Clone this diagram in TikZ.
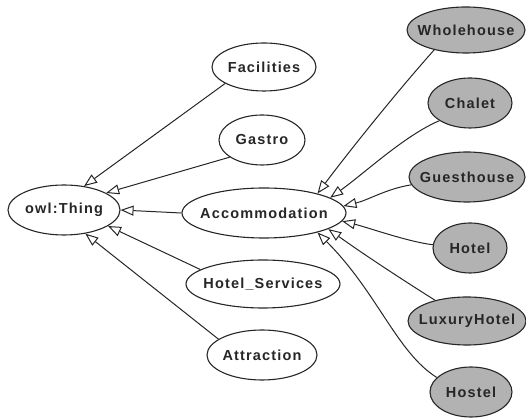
\documentclass[tikz,border=0pt]{standalone}
\usepackage{fontspec}
\newfontfamily\lblfont[LetterSpace=8]{Liberation Sans}
\newcommand\lbtxt[1]{\makebox[0pt]{#1}}
\usetikzlibrary{shapes.geometric,arrows.meta}
\begin{document}
\begin{tikzpicture}[x=1pt,y=1pt,
  cls/.style={ellipse,draw=black!85,line width=1.1pt,inner sep=0pt,font=\lblfont\bfseries\fontsize{14.5}{15}\selectfont,text=black!85},
  sub/.style={cls,fill=black!30},
  isa/.style={draw=black!85,line width=1pt,-{Triangle[open,length=13pt,width=10pt]}}]
\useasboundingbox (0,0) rectangle (526,419);
\node[cls,minimum width=112,minimum height=50] (thing) at (64,209) {\lbtxt{owl:Thing}};
\node[cls,minimum width=104,minimum height=48] (fac) at (264,352) {\lbtxt{Facilities}};
\node[cls,minimum width=86,minimum height=50] (gas) at (262,279) {\lbtxt{Gastro}};
\node[cls,minimum width=164,minimum height=50] (acc) at (264,206) {\lbtxt{Accommodation}};
\node[cls,minimum width=154,minimum height=48] (hs) at (263,135) {\lbtxt{Hotel\_Services}};
\node[cls,minimum width=110,minimum height=50] (att) at (262,64) {\lbtxt{Attraction}};
\node[sub,minimum width=118,minimum height=46] (wh) at (466,389) {\lbtxt{Wholehouse}};
\node[sub,minimum width=84,minimum height=50] (ch) at (470,316) {\lbtxt{Chalet}};
\node[sub,minimum width=116,minimum height=50] (gh) at (467,242) {\lbtxt{Guesthouse}};
\node[sub,minimum width=74,minimum height=50] (ho) at (470,171) {\lbtxt{Hotel}};
\node[sub,minimum width=118,minimum height=48] (lh) at (467,98) {\lbtxt{LuxuryHotel}};
\node[sub,minimum width=82,minimum height=50] (hos) at (471,27) {\lbtxt{Hostel}};
\draw[isa] (fac.203) -- (thing.50);
\draw[isa] (gas.208) -- (thing.22);
\draw[isa] (acc.180) -- (thing.0);
\draw[isa] (hs.167) -- (thing.-20);
\draw[isa] (att.160) -- (thing.-48);
\draw[isa] (wh.212) .. controls +(-40,-45) and +(30,40) .. (acc.20);
\draw[isa] (ch.210) .. controls +(-35,-15) and +(35,25) .. (acc.13);
\draw[isa] (gh.188) .. controls +(-25,-4) and +(25,6) .. (acc.5);
\draw[isa] (ho.175) .. controls +(-25,3) and +(25,-6) .. (acc.-6);
\draw[isa] (lh.147) .. controls +(-35,22) and +(35,-25) .. (acc.-14);
\draw[isa] (hos.157) .. controls +(-40,25) and +(60,-60) .. (acc.-20);
\end{tikzpicture}
\end{document}
